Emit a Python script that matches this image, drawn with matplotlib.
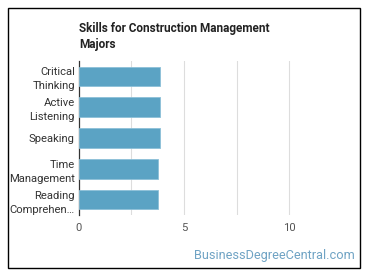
import matplotlib.pyplot as plt
from matplotlib.patches import Rectangle

plt.rcParams['font.family'] = ['Roboto', 'DejaVu Sans']

skills = ["Critical\nThinking", "Active\nListening", "Speaking",
          "Time\nManagement", "Reading\nComprehen\u2026"]
scores = [3.88, 3.88, 3.88, 3.75, 3.75]
x_ticks = [0, 5, 10]

fig = plt.figure(figsize=(3.70, 2.78), dpi=100)
ax = fig.add_axes([0.2135, 0.2266, 0.7095, 0.554])

ypos = list(range(len(skills)))
ax.barh(ypos, scores, height=0.64, color="#5ba3c4", edgecolor="#8cc0d8", linewidth=0.6, zorder=3)
ax.set_ylim(len(skills) - 0.5, -0.5)
ax.set_xlim(0, 12.5)
ax.set_yticks(ypos)
ax.set_yticklabels(skills, fontsize=8.1, color="#333333", linespacing=1.5)
ax.set_xticks(x_ticks)
ax.set_xticklabels([str(t) for t in x_ticks], fontsize=8.1, color="#555555")
for g in [2.5, 5, 7.5, 10]:
    ax.axvline(g, color="#dddddd", linewidth=0.8, zorder=1)

for s in ["top", "right", "bottom"]:
    ax.spines[s].set_visible(False)
ax.spines["left"].set_color("#333333")
ax.spines["left"].set_linewidth(0.9)
ax.tick_params(axis="both", length=0, pad=3)
ax.tick_params(axis="x", pad=6)

fig.text(79 / 370, 1 - 22 / 278, "Skills for Construction Management\nMajors",
         fontsize=8.5, fontweight="bold", color="#222222", va="top", ha="left",
         linespacing=1.3)
fig.text(355 / 370, 1 - 255 / 278, "BusinessDegreeCentral.com", fontsize=9.2,
         color="#6fa3c4", ha="right", va="center")

fig.patches.append(Rectangle((8 / 370, 1 - 268 / 278), 352 / 370, 260 / 278,
                             transform=fig.transFigure, fill=False,
                             edgecolor="black", linewidth=1.0))

fig.savefig("out.png", dpi=100)
